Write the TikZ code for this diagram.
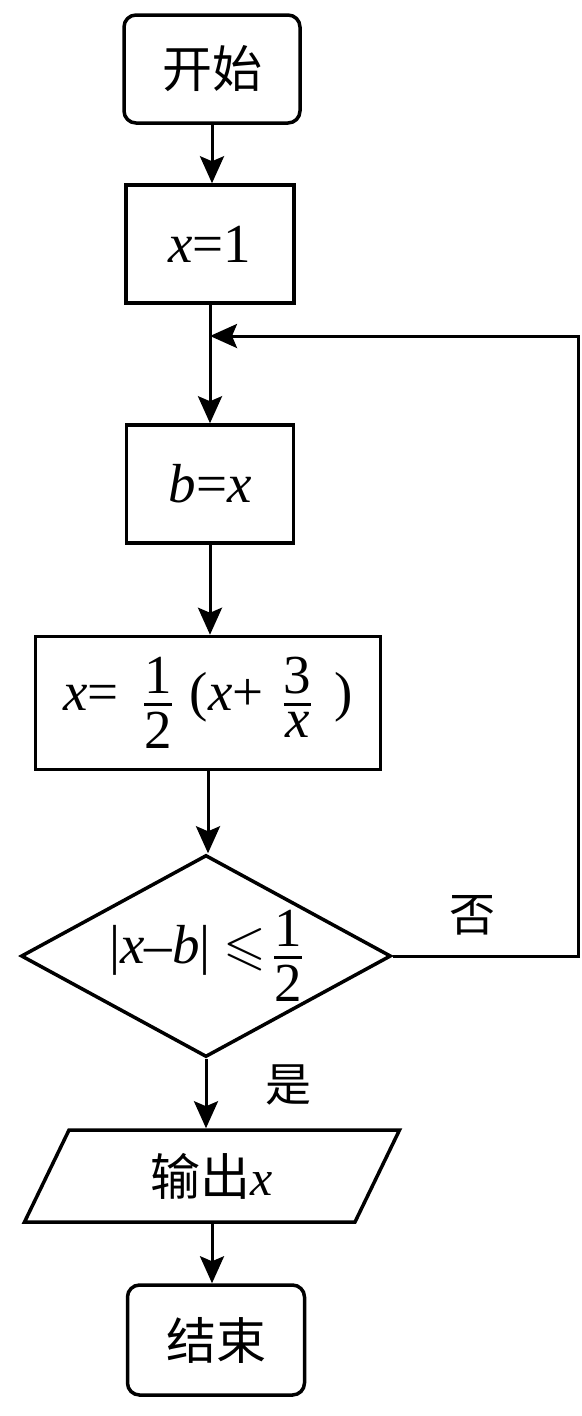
\documentclass[tikz,border=0pt]{standalone}
\usepackage{amsmath,amssymb}
\usepackage{fontspec}
\setmainfont{Liberation Serif}
\newfontfamily\cjk{Noto Sans CJK SC}
\usetikzlibrary{arrows.meta,shapes.geometric}
\newcommand{\vx}{\textit{x}}
\newcommand{\vb}{\textit{b}}
\begin{document}
\begin{tikzpicture}[x=1pt,y=-1pt,
  font=\fontsize{55}{60}\selectfont,
  every node/.style={inner sep=0pt},
  shapebox/.style={draw, line width=3.5pt},
  term/.style={shapebox, rounded corners=12pt, font=\fontsize{50}{56}\selectfont\cjk},
  proc/.style={shapebox},
  lbl/.style={font=\fontsize{46}{50}\selectfont\cjk},
  flow/.style={line width=3pt},
  arr/.style={flow, -{Stealth[length=27pt,width=24pt,inset=5pt]}}]
\useasboundingbox (0,0) rectangle (581,1416);
\node[term, minimum width=176pt, minimum height=108pt] (start) at (212,69) {开始};
\node[proc, minimum width=168pt, minimum height=118pt] (x1) at (210,244) {\vx=1};
\node[proc, minimum width=345pt, minimum height=118pt] (bx) at (210,484) [minimum width=167pt] {\vb=\vx};
\node[proc, minimum width=345pt, minimum height=133pt] (upd) at (208,703) {$\vx\text{=}\hspace{0.45em}\dfrac{\text{1}}{\text{2}}\hspace{0.3em}\text{(}\vx\text{+}\hspace{0.35em}\dfrac{\text{3}}{\vx}\hspace{0.4em}\text{)}$};
\node[shapebox, diamond, minimum width=370pt, minimum height=202pt, label={center:$\text{|}\vx\text{--}\vb\text{|}\hspace{0.1em}\leqslant\dfrac{\text{1}}{\text{2}}$}] (dec) at (206,956) {};
\node[shapebox, trapezium, trapezium left angle=46, trapezium right angle=134, trapezium stretches body, minimum width=375pt, minimum height=92pt, font=\fontsize{50}{56}\selectfont] (out) at (212,1176) {{\cjk 输出}\vx};
\node[term, minimum width=177pt, minimum height=110pt] (end) at (216,1340) {结束};
\node[lbl] (no) at (472,915) {否};
\node[lbl] (yes) at (288,1085) {是};
\coordinate (join) at (210,336);
\coordinate (corner) at (578,336);
\draw[arr] (start.south) -- (start.south |- x1.north);
\draw[flow] (x1.south) -- (join);
\draw[arr] (join) -- (bx.north);
\draw[arr] (bx.south) -- (bx.south |- upd.north);
\draw[arr] (upd.south) -- (upd.south |- dec.north);
\draw[arr] (dec.south) -- (dec.south |- out.north);
\draw[arr] (out.south) -- (out.south |- end.north);
\draw[arr] (dec.east) -| (corner) -- (join);
\end{tikzpicture}
\end{document}
